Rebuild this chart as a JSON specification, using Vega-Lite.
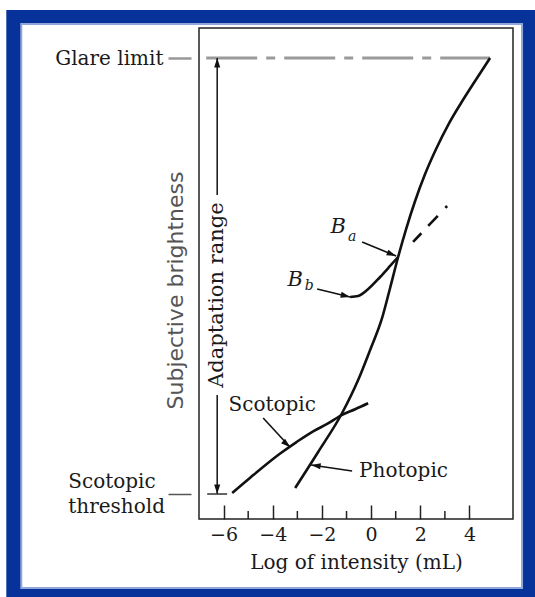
{
  "$schema": "https://vega.github.io/schema/vega-lite/v6.json",
  "width": 314,
  "height": 491,
  "autosize": {"type": "none"},
  "padding": {"left": 199, "top": 28, "right": 22, "bottom": 78},
  "background": "white",
  "config": {"view": {"stroke": null}, "font": "DejaVu Serif"},
  "datasets": {
    "curves": [
      {"curve": "Photopic", "x": -3.089, "y": 6.31},
      {"curve": "Photopic", "x": -2.154, "y": 13.65},
      {"curve": "Photopic", "x": -1.179, "y": 21.59},
      {"curve": "Photopic", "x": -0.528, "y": 28.31},
      {"curve": "Photopic", "x": -0.041, "y": 34.42},
      {"curve": "Photopic", "x": 0.447, "y": 40.94},
      {"curve": "Photopic", "x": 0.772, "y": 47.05},
      {"curve": "Photopic", "x": 1.098, "y": 53.36},
      {"curve": "Photopic", "x": 1.423, "y": 59.06},
      {"curve": "Photopic", "x": 1.789, "y": 64.77},
      {"curve": "Photopic", "x": 2.195, "y": 70.26},
      {"curve": "Photopic", "x": 2.642, "y": 75.36},
      {"curve": "Photopic", "x": 3.13, "y": 80.24},
      {"curve": "Photopic", "x": 3.659, "y": 84.73},
      {"curve": "Photopic", "x": 4.228, "y": 89.21},
      {"curve": "Photopic", "x": 4.837, "y": 93.89},
      {"curve": "Scotopic", "x": -5.65, "y": 5.3},
      {"curve": "Scotopic", "x": -4.919, "y": 8.41},
      {"curve": "Scotopic", "x": -3.699, "y": 13.34},
      {"curve": "Scotopic", "x": -3.049, "y": 15.62},
      {"curve": "Scotopic", "x": -2.358, "y": 17.86},
      {"curve": "Scotopic", "x": -1.789, "y": 19.35},
      {"curve": "Scotopic", "x": -1.179, "y": 21.22},
      {"curve": "Scotopic", "x": -0.65, "y": 22.36},
      {"curve": "Scotopic", "x": -0.122, "y": 23.57},
      {"curve": "Bb", "x": -0.854, "y": 45.21},
      {"curve": "Bb", "x": -0.528, "y": 45.42},
      {"curve": "Bb", "x": -0.163, "y": 46.64},
      {"curve": "Bb", "x": 0.366, "y": 49.29},
      {"curve": "Bb", "x": 0.772, "y": 51.53},
      {"curve": "Bb", "x": 1.098, "y": 53.36}
    ],
    "arrows": [
      {"name": "Ba", "x": -0.366, "y": 56.42, "x2": 1.016, "y2": 53.56},
      {"name": "Bb", "x": -2.195, "y": 46.84, "x2": -0.854, "y2": 45.21},
      {"name": "Scotopic", "x": -4.39, "y": 20.57, "x2": -3.293, "y2": 14.6},
      {"name": "Photopic", "x": -0.772, "y": 9.78, "x2": -2.439, "y2": 11.0}
    ],
    "adapt": [
      {"x": -6.26, "y": 93.89, "y2": 66.0},
      {"x": -6.26, "y": 25.25, "y2": 5.09}
    ]
  },
  "layer": [
    {
      "data": {"values": [{"x": -14.837, "x2": 6.667, "y": 103.67, "y2": -15.89}]},
      "mark": {"type": "rect", "color": "#07329a"},
      "encoding": {
        "x": {"field": "x", "type": "quantitative"},
        "x2": {"field": "x2"},
        "y": {"field": "y", "type": "quantitative"},
        "y2": {"field": "y2"}
      }
    },
    {
      "data": {"values": [{"x": -14.228, "x2": 6.138, "y": 100.81, "y2": -14.05}]},
      "mark": {"type": "rect", "fill": "white", "stroke": "#8ea6dc", "strokeWidth": 2},
      "encoding": {
        "x": {"field": "x", "type": "quantitative"},
        "x2": {"field": "x2"},
        "y": {"field": "y", "type": "quantitative"},
        "y2": {"field": "y2"}
      }
    },
    {
      "data": {"values": [{"x": -7, "x2": 5.77, "y": 0, "y2": 100}]},
      "mark": {"type": "rect", "filled": false, "color": "#222", "strokeWidth": 1.5},
      "encoding": {
        "x": {
          "field": "x", "type": "quantitative",
          "scale": {"domain": [-7, 5.77], "nice": false, "zero": false},
          "axis": {
            "zindex": 1,
            "title": "Log of intensity (mL)",
            "titleFont": "DejaVu Serif", "titleFontSize": 20, "titleFontWeight": "normal", "titleColor": "#1a1a1a",
            "titlePadding": 8,
            "values": [-6, -4, -2, 0, 2, 4],
            "domain": false, "grid": false,
            "tickSize": -14, "tickColor": "#222", "tickWidth": 1.5,
            "labelFont": "DejaVu Serif", "labelFontSize": 19, "labelColor": "#1a1a1a",
            "labelPadding": 20, "labelFlush": false
          }
        },
        "x2": {"field": "x2"},
        "y": {
          "field": "y", "type": "quantitative",
          "scale": {"domain": [0, 100], "nice": false, "zero": false},
          "axis": {
            "zindex": 1,
            "title": "Subjective brightness",
            "titleFont": "DejaVu Sans", "titleFontSize": 22, "titleFontWeight": "normal", "titleColor": "#555",
            "titleX": -16, "titleY": 262, "titleAngle": -90, "titleAlign": "center", "titleBaseline": "middle",
            "values": [5.09, 93.89],
            "labelExpr": "datum.value > 50 ? 'Glare limit' : ''",
            "domain": false, "grid": false, "offset": 8,
            "tickSize": 23,
            "tickColor": {"condition": {"test": "datum.value > 50", "value": "#999"}, "value": "#555"},
            "tickWidth": {"condition": {"test": "datum.value > 50", "value": 2.5}, "value": 1.5},
            "labelFont": "DejaVu Serif", "labelFontSize": 20, "labelColor": "#1a1a1a",
            "labelPadding": 5, "labelFlush": false, "labelOverlap": false,
            "labelBaseline": "middle"
          }
        },
        "y2": {"field": "y2"}
      }
    },
    {
      "data": {"values": [{"x": -5}, {"x": -3}, {"x": -1}, {"x": 1}, {"x": 3}]},
      "mark": {"type": "rule", "color": "#222", "strokeWidth": 1.5},
      "encoding": {
        "x": {"field": "x", "type": "quantitative"},
        "y": {"datum": 0, "type": "quantitative"},
        "y2": {"datum": 1.63}
      }
    },
    {
      "data": {"values": [{"x": -6.707, "x2": 4.837, "y": 93.89}]},
      "mark": {"type": "rule", "color": "#9a9a9a", "strokeWidth": 3, "strokeDash": [51, 9, 9, 9]},
      "encoding": {
        "x": {"field": "x", "type": "quantitative"},
        "x2": {"field": "x2"},
        "y": {"field": "y", "type": "quantitative"}
      }
    },
    {
      "data": {"name": "adapt"},
      "mark": {"type": "rule", "color": "#111", "strokeWidth": 1.5},
      "encoding": {
        "x": {"field": "x", "type": "quantitative"},
        "y": {"field": "y", "type": "quantitative"},
        "y2": {"field": "y2"}
      }
    },
    {
      "data": {"values": [{"x": -6.667, "x2": -5.854, "y": 5.09}]},
      "mark": {"type": "rule", "color": "#333", "strokeWidth": 1.5},
      "encoding": {
        "x": {"field": "x", "type": "quantitative"},
        "x2": {"field": "x2"},
        "y": {"field": "y", "type": "quantitative"}
      }
    },
    {
      "data": {"name": "curves"},
      "mark": {"type": "line", "color": "#111", "strokeWidth": 2.6, "interpolate": "monotone"},
      "encoding": {
        "x": {"field": "x", "type": "quantitative"},
        "y": {"field": "y", "type": "quantitative"},
        "detail": {"field": "curve"}
      }
    },
    {
      "data": {"values": [{"x": 1.707, "y": 56.42}, {"x": 3.089, "y": 63.75}]},
      "mark": {"type": "line", "color": "#111", "strokeWidth": 2.6, "strokeDash": [12, 10, 14, 11, 3, 40]},
      "encoding": {
        "x": {"field": "x", "type": "quantitative"},
        "y": {"field": "y", "type": "quantitative"}
      }
    },
    {
      "data": {"name": "arrows"},
      "mark": {"type": "rule", "color": "#111", "strokeWidth": 1.6},
      "encoding": {
        "x": {"field": "x", "type": "quantitative"},
        "y": {"field": "y", "type": "quantitative"},
        "x2": {"field": "x2"},
        "y2": {"field": "y2"}
      }
    },
    {
      "data": {"name": "arrows"},
      "transform": [{"filter": "datum.name === 'Ba'"}],
      "mark": {"type": "point", "shape": "M0,0L0.32,1L-0.32,1Z", "size": 360, "filled": true, "color": "#111", "opacity": 1, "angle": 112},
      "encoding": {"x": {"field": "x2", "type": "quantitative"}, "y": {"field": "y2", "type": "quantitative"}}
    },
    {
      "data": {"name": "arrows"},
      "transform": [{"filter": "datum.name === 'Bb'"}],
      "mark": {"type": "point", "shape": "M0,0L0.32,1L-0.32,1Z", "size": 360, "filled": true, "color": "#111", "opacity": 1, "angle": 104},
      "encoding": {"x": {"field": "x2", "type": "quantitative"}, "y": {"field": "y2", "type": "quantitative"}}
    },
    {
      "data": {"name": "arrows"},
      "transform": [{"filter": "datum.name === 'Scotopic'"}],
      "mark": {"type": "point", "shape": "M0,0L0.32,1L-0.32,1Z", "size": 360, "filled": true, "color": "#111", "opacity": 1, "angle": 132},
      "encoding": {"x": {"field": "x2", "type": "quantitative"}, "y": {"field": "y2", "type": "quantitative"}}
    },
    {
      "data": {"name": "arrows"},
      "transform": [{"filter": "datum.name === 'Photopic'"}],
      "mark": {"type": "point", "shape": "M0,0L0.32,1L-0.32,1Z", "size": 360, "filled": true, "color": "#111", "opacity": 1, "angle": 278},
      "encoding": {"x": {"field": "x2", "type": "quantitative"}, "y": {"field": "y2", "type": "quantitative"}}
    },
    {
      "data": {"name": "adapt"},
      "transform": [{"filter": "datum.y > 50"}],
      "mark": {"type": "point", "shape": "M0,0L0.32,1L-0.32,1Z", "size": 360, "filled": true, "color": "#111", "opacity": 1, "angle": 0},
      "encoding": {"x": {"field": "x", "type": "quantitative"}, "y": {"field": "y", "type": "quantitative"}}
    },
    {
      "data": {"name": "adapt"},
      "transform": [{"filter": "datum.y < 50"}],
      "mark": {"type": "point", "shape": "M0,0L0.32,1L-0.32,1Z", "size": 360, "filled": true, "color": "#111", "opacity": 1, "angle": 180},
      "encoding": {"x": {"field": "x", "type": "quantitative"}, "y": {"field": "y2", "type": "quantitative"}}
    },
    {
      "data": {"values": [{"t": "Scotopic", "x": -12.317, "y": 7.5}, {"t": "threshold", "x": -12.317, "y": 2.4}]},
      "mark": {"type": "text", "font": "DejaVu Serif", "fontSize": 20, "color": "#1a1a1a", "align": "left", "baseline": "middle"},
      "encoding": {"x": {"field": "x", "type": "quantitative"}, "y": {"field": "y", "type": "quantitative"}, "text": {"field": "t"}}
    },
    {
      "data": {"values": [{"t": "Scotopic", "x": -4.024, "y": 23.22}]},
      "mark": {"type": "text", "font": "DejaVu Serif", "fontSize": 20, "color": "#1a1a1a", "align": "center", "baseline": "middle"},
      "encoding": {"x": {"field": "x", "type": "quantitative"}, "y": {"field": "y", "type": "quantitative"}, "text": {"field": "t"}}
    },
    {
      "data": {"values": [{"t": "Photopic", "x": -0.488, "y": 9.78}]},
      "mark": {"type": "text", "font": "DejaVu Serif", "fontSize": 20, "color": "#1a1a1a", "align": "left", "baseline": "middle"},
      "encoding": {"x": {"field": "x", "type": "quantitative"}, "y": {"field": "y", "type": "quantitative"}, "text": {"field": "t"}}
    },
    {
      "data": {"values": [{"t": "B", "x": -1.341, "y": 59.47}, {"t": "B", "x": -3.089, "y": 48.76}]},
      "mark": {"type": "text", "font": "DejaVu Serif", "fontSize": 21, "fontStyle": "italic", "color": "#1a1a1a", "align": "center", "baseline": "middle"},
      "encoding": {"x": {"field": "x", "type": "quantitative"}, "y": {"field": "y", "type": "quantitative"}, "text": {"field": "t"}}
    },
    {
      "data": {"values": [{"t": "a", "x": -0.772, "y": 57.43}, {"t": "b", "x": -2.52, "y": 47.45}]},
      "mark": {"type": "text", "font": "DejaVu Serif", "fontSize": 14, "fontStyle": "italic", "color": "#1a1a1a", "align": "center", "baseline": "middle"},
      "encoding": {"x": {"field": "x", "type": "quantitative"}, "y": {"field": "y", "type": "quantitative"}, "text": {"field": "t"}}
    },
    {
      "data": {"values": [{"t": "Adaptation range", "x": -6.26, "y": 45.6}]},
      "mark": {"type": "text", "font": "DejaVu Serif", "fontSize": 21, "color": "#1a1a1a", "align": "center", "baseline": "middle", "angle": 270},
      "encoding": {"x": {"field": "x", "type": "quantitative"}, "y": {"field": "y", "type": "quantitative"}, "text": {"field": "t"}}
    }
  ]
}
